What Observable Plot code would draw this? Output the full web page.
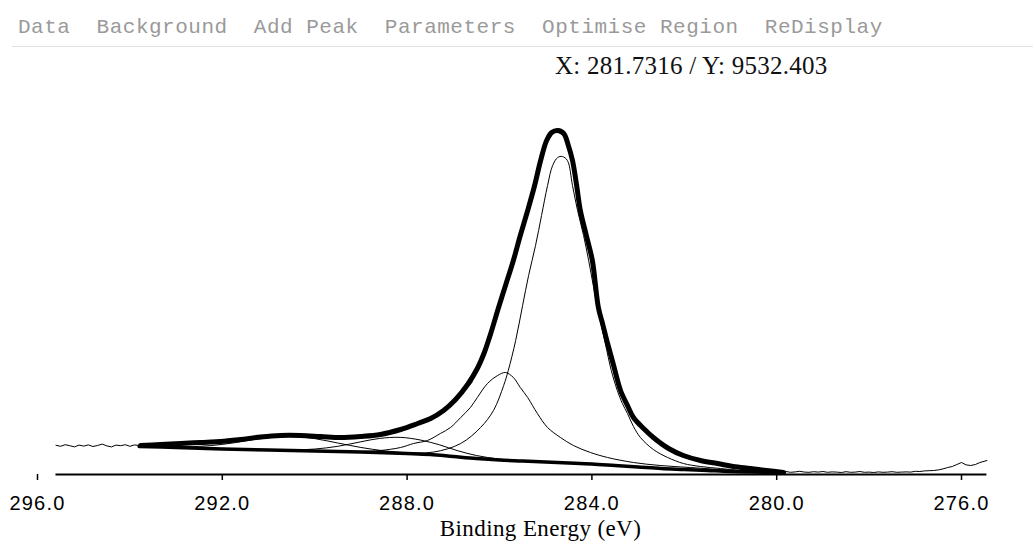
<!DOCTYPE html>
<html>
<head>
<meta charset="utf-8">
<script src="https://cdn.jsdelivr.net/npm/d3@7"></script>
<script src="https://cdn.jsdelivr.net/npm/@observablehq/plot@0.6"></script>
<style>
  body { margin: 0; width: 1033px; height: 552px; background: #fff; overflow: hidden; position: relative; }
  #menu { position: absolute; left: 18px; top: 14px; font-family: "Liberation Mono", monospace; font-size: 21px; line-height: 28px; letter-spacing: 0.5px; color: #9a9a9a; white-space: pre; }
  #rule { position: absolute; left: 12px; right: 0; top: 46px; border-top: 1px solid #e2e2e2; }
  #readout { position: absolute; left: 555px; top: 52px; font-family: "Liberation Serif", serif; font-size: 25px; line-height: 28px; letter-spacing: 0.25px; color: #111; white-space: pre; }
  #chart { position: absolute; left: 0; top: 80px; }
  #chart g[aria-label="text"] { letter-spacing: 0.4px; }
</style>
</head>
<body>
<div id="menu"></div>
<div id="rule"></div>
<div id="readout"></div>
<div id="chart"></div>
<script>
// ---- text ----
const menuItems = ["Data", "Background", "Add Peak", "Parameters", "Optimise Region", "ReDisplay"];
const readoutText = "X: 281.7316 / Y: 9532.403";
const xLabel = "Binding Energy (eV)";
const xTicks = [296, 292, 288, 284, 280, 276];

// ---- raw spectrum (binding energy, counts) ----
const rawBE = [
  295.6,295.5,295.4,295.3,295.2,295.1,295.0,294.9,294.8,294.7,294.6,294.5,294.4,294.3,294.2,294.1,294.0,293.9,293.8,
  293.6,293.4,293.2,293.0,292.8,292.6,292.4,292.2,292.0,291.8,291.6,291.4,291.2,291.0,290.8,290.6,290.4,290.2,290.0,
  289.8,289.6,289.4,289.2,289.0,288.8,288.6,288.4,288.2,288.0,287.8,287.6,287.4,287.2,287.0,286.8,286.6,286.4,286.2,
  286.0,285.8,285.6,285.4,285.2,285.0,284.8,284.6,284.4,284.2,284.0,283.8,283.6,283.4,283.2,283.0,282.8,282.6,282.4,
  282.2,282.0,281.8,281.6,281.4,281.2,281.0,280.8,280.6,280.4,280.2,280.0,
  279.9,279.8,279.7,279.6,279.5,279.4,279.3,279.2,279.1,279.0,278.9,278.8,278.7,278.6,278.5,278.4,278.3,278.2,278.1,
  278.0,277.9,277.8,277.7,277.6,277.5,277.4,277.3,277.2,277.1,277.0,276.9,276.8,276.7,276.6,276.5,276.4,276.3,276.2,
  276.1,276.0,275.9,275.8,275.7,275.6,275.45
];
const rawCounts = [
  730,705,745,720,690,735,710,740,700,725,760,715,690,735,720,745,705,740,725,
  760,735,790,760,810,780,840,850,870,880,860,930,950,940,985,960,990,960,975,
  930,945,915,950,940,990,985,1070,1090,1200,1250,1360,1440,1630,1800,2030,2300,2900,3480,
  4250,4980,5800,6540,7420,8260,8600,8480,7750,6300,5420,3860,3020,2160,1680,1230,1090,850,720,
  550,490,380,360,280,290,200,210,140,150,90,80,
  60,75,55,65,80,60,55,70,60,75,55,65,60,50,70,55,60,75,55,
  60,50,65,55,60,70,55,60,65,60,80,75,90,95,100,115,140,175,200,
  250,300,240,225,250,300,350
];

// ---- fitted envelope ----
const envBE = [293.77,293.34,292.90,292.47,292.04,291.61,291.17,290.74,290.31,289.87,289.44,289.01,288.58,288.14,287.77,287.49,287.21,286.95,286.69,286.48,286.32,286.19,286.02,285.87,285.70,285.55,285.39,285.24,285.11,284.98,284.87,284.74,284.61,284.51,284.42,284.33,284.25,284.12,283.99,283.86,283.77,283.66,283.53,283.38,283.23,283.10,282.88,282.67,282.34,282.02,281.65,281.28,280.94,280.57,280.22,279.85];
const envCounts = [725,750,775,800,825,875,937,975,975,950,925,950,1000,1125,1275,1400,1600,1875,2250,2650,3075,3525,4175,4725,5350,5975,6600,7225,7850,8350,8550,8600,8525,8225,7850,7225,6600,5975,5350,4175,3775,3275,2725,2100,1725,1425,1150,925,650,475,350,275,200,150,100,50];

// ---- Shirley background ----
const bgBE = [293.8,293.0,292.0,291.0,290.0,289.0,288.0,287.5,287.0,286.5,286.0,285.5,285.0,284.5,284.0,283.5,283.0,282.5,282.0,281.5,281.0,280.5,279.85];
const bgCounts = [700,675,638,612,588,562,525,500,450,400,362,338,312,288,262,225,188,150,125,100,75,62,50];

// ---- component 1: C-C (~284.7 eV) ----
const c1BE = [289.0,288.6,288.14,287.43,286.84,286.41,286.13,285.91,285.81,285.65,285.50,285.37,285.22,285.09,284.96,284.85,284.74,284.64,284.53,284.42,284.31,284.18,284.07,283.97,283.88,283.71,283.58,283.45,283.34,283.23,283.10,282.95,282.67,282.36,282.02,281.65,281.22,280.78,280.35,279.92];
const c1Counts = [575,560,545,560,775,1175,1600,2225,2600,3350,4225,4975,5725,6475,7225,7725,7925,7950,7850,7225,6600,5975,5350,4725,4175,3275,2600,2100,1775,1525,1200,925,625,425,275,200,150,100,75,50];

// ---- component 2: C-O (~285.9 eV) ----
const c2BE = [289.66,289.01,288.58,288.14,287.86,287.56,287.28,287.06,286.84,286.63,286.48,286.26,286.04,285.87,285.70,285.55,285.39,285.18,284.96,284.68,284.40,284.03,283.66,283.10,282.52,281.87,281.22,280.35];
const c2Counts = [550,575,600,675,775,850,1025,1175,1425,1675,1925,2275,2475,2550,2425,2175,1925,1525,1175,925,725,550,425,300,225,175,125,75];

// ---- component 3: C=O (~288.2 eV) ----
const c3BE = [291.0,290.5,290.0,289.5,289.0,288.6,288.15,287.7,287.3,286.9,286.5,286.0,285.5];
const c3Counts = [615,613,636,705,818,901,929,859,742,593,475,385,343];

// ---- component 4: shake-up (~290.5 eV) ----
const c4BE = [293.8,293.0,292.5,292.0,291.5,291.0,290.5,290.0,289.5,289.0,288.5,288.0,287.5];
const c4Counts = [700,690,703,752,837,921,950,897,787,676,592,540,502];

document.getElementById("menu").textContent = menuItems.join("  ");
document.getElementById("readout").textContent = readoutText;

const series = (be, c) => be.map((x, i) => ({x, y: c[i]}));
const thin = {x: "x", y: "y", stroke: "black", strokeWidth: 1, curve: "catmull-rom"};

const chart = Plot.plot({
  width: 1033,
  height: 472,
  marginLeft: 37,
  marginRight: 72,
  marginTop: 14,
  marginBottom: 78,
  x: {domain: [296, 276]},
  y: {domain: [0, 9500], axis: null},
  style: {fontFamily: "Liberation Sans, Arial, sans-serif", fontSize: "20px", letterSpacing: "1.2px", background: "white", color: "black"},
  marks: [
    Plot.ruleY([0], {x1: d3.max(rawBE), x2: d3.min(rawBE), stroke: "black", strokeWidth: 2}),
    Plot.axisX({ticks: xTicks, tickFormat: d3.format(".1f"), tickSize: 6, tickPadding: 15, label: null, strokeWidth: 1.5}),
    Plot.text([xLabel], {text: d => d, frameAnchor: "bottom", dx: 41, dy: 54, fontFamily: "Liberation Serif, serif", fontSize: 23, lineAnchor: "middle"}),
    Plot.line(series(bgBE, bgCounts), {x: "x", y: "y", stroke: "black", strokeWidth: 3.5, curve: "catmull-rom"}),
    Plot.line(series(c4BE, c4Counts), thin),
    Plot.line(series(c3BE, c3Counts), thin),
    Plot.line(series(c2BE, c2Counts), thin),
    Plot.line(series(c1BE, c1Counts), thin),
    Plot.line(series(rawBE, rawCounts), {x: "x", y: "y", stroke: "black", strokeWidth: 1}),
    Plot.line(series(envBE, envCounts), {x: "x", y: "y", stroke: "black", strokeWidth: 5, curve: "catmull-rom"})
  ]
});
document.getElementById("chart").appendChild(chart);
</script>
</body>
</html>
